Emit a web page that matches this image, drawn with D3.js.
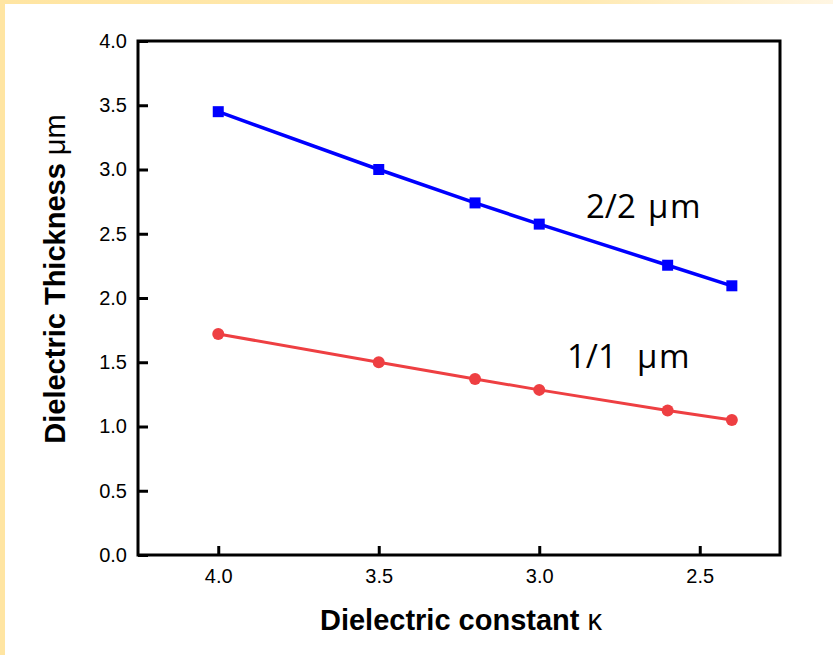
<!DOCTYPE html>
<html>
<head>
<meta charset="utf-8">
<script src="https://cdn.jsdelivr.net/npm/d3@7"></script>
<style>
    body { margin: 0; background: #ffffff; }
</style>
</head>
<body>
<div id="chart"></div>
<script>

// data
let kappa = [4.0, 3.5, 3.2, 3.0, 2.6, 2.4];
let thick22 = [3.45, 3.0, 2.74, 2.575, 2.255, 2.095];
let thick11 = [1.72, 1.50, 1.37, 1.285, 1.125, 1.05];
let xTicks = [4.0, 3.5, 3.0, 2.5];
let yTicks = [0.0, 0.5, 1.0, 1.5, 2.0, 2.5, 3.0, 3.5, 4.0];

let width = 833,
    height = 655;

let plotLeft = 138, plotRight = 780, plotTop = 41, plotBottom = 555;

let svg = d3.select("#chart").append("svg")
    .attr("width", width)
    .attr("height", height);

// cream slide border
let grad = svg.append("defs").append("linearGradient")
    .attr("id", "band")
    .attr("x1", "0%").attr("x2", "100%");
grad.append("stop").attr("offset", "0%").attr("stop-color", "#ffe5a2");
grad.append("stop").attr("offset", "70%").attr("stop-color", "#ffeab3");
grad.append("stop").attr("offset", "100%").attr("stop-color", "#fff6e3");

svg.append("rect").attr("x", 0).attr("y", 0)
    .attr("width", width).attr("height", 4)
    .attr("fill", "url(#band)");
svg.append("rect").attr("x", 0).attr("y", 0)
    .attr("width", 5).attr("height", height)
    .attr("fill", "#ffe5a2");

let x = d3.scaleLinear()
    .domain([4.25, 2.25])
    .range([plotLeft, plotRight]);

let y = d3.scaleLinear()
    .domain([0, 4])
    .range([plotBottom, plotTop]);

let tickFormat = d3.format(".1f");

// axes with inward ticks
let xAxis = svg.append("g")
    .attr("transform", "translate(0," + plotBottom + ")")
    .call(d3.axisBottom(x)
        .tickValues(xTicks)
        .tickSizeInner(-9)
        .tickSizeOuter(0)
        .tickPadding(14)
        .tickFormat(tickFormat));

let yAxis = svg.append("g")
    .attr("transform", "translate(" + plotLeft + ",0)")
    .call(d3.axisLeft(y)
        .tickValues(yTicks)
        .tickSizeInner(-10)
        .tickSizeOuter(0)
        .tickPadding(11)
        .tickFormat(tickFormat));

[xAxis, yAxis].forEach(function(g) {
    g.select(".domain").remove();
    g.selectAll(".tick line").attr("stroke", "#000").attr("stroke-width", 3);
    g.selectAll(".tick text")
        .attr("fill", "#000")
        .style("font-family", "Arial, 'Liberation Sans', sans-serif")
        .style("font-size", "20px");
});

// plot frame
svg.append("rect")
    .attr("x", plotLeft).attr("y", plotTop)
    .attr("width", plotRight - plotLeft).attr("height", plotBottom - plotTop)
    .attr("fill", "none")
    .attr("stroke", "#000")
    .attr("stroke-width", 3);

let line = d3.line()
    .x(d => x(d[0]))
    .y(d => y(d[1]));

let blue = kappa.map((k, i) => [k, thick22[i]]);
let red = kappa.map((k, i) => [k, thick11[i]]);

svg.append("path")
    .datum(blue)
    .attr("d", line)
    .attr("fill", "none")
    .attr("stroke", "#0000ff")
    .attr("stroke-width", 3.5);

svg.selectAll(".sq")
    .data(blue)
    .enter()
    .append("rect")
    .attr("class", "sq")
    .attr("x", d => x(d[0]) - 5.5)
    .attr("y", d => y(d[1]) - 5.5)
    .attr("width", 11)
    .attr("height", 11)
    .attr("fill", "#0000ff");

svg.append("path")
    .datum(red)
    .attr("d", line)
    .attr("fill", "none")
    .attr("stroke", "#ee3f42")
    .attr("stroke-width", 3);

svg.selectAll(".dot")
    .data(red)
    .enter()
    .append("circle")
    .attr("class", "dot")
    .attr("cx", d => x(d[0]))
    .attr("cy", d => y(d[1]))
    .attr("r", 6)
    .attr("fill", "#ee3f42");

// series labels, the unit set a bit apart like the original
function seriesLabel(px, py, ux, txt) {
    let t = svg.append("text")
        .attr("x", px).attr("y", py)
        .style("font-family", "'Open Sans', sans-serif")
        .style("font-size", "33px")
        .style("fill", "#000");
    t.append("tspan").text(txt);
    t.append("tspan").attr("x", ux)
        .style("letter-spacing", "1.5px")
        .text("\u03bcm");
}
seriesLabel(586, 218, 648, "2/2");
seriesLabel(567, 368, 637, "1/1");

// axis titles
let xTitle = svg.append("text")
    .attr("x", (plotLeft + plotRight) / 2 + 2)
    .attr("y", 630)
    .attr("text-anchor", "middle")
    .style("font-family", "Arial, 'Liberation Sans', sans-serif")
    .style("font-size", "29px")
    .style("font-weight", "bold");
xTitle.append("tspan").text("Dielectric constant ");
xTitle.append("tspan").style("font-weight", "normal").text("\u03ba");

let yTitle = svg.append("text")
    .attr("transform", "translate(65,279) rotate(-90)")
    .attr("text-anchor", "middle")
    .style("font-family", "Arial, 'Liberation Sans', sans-serif")
    .style("font-size", "29px")
    .style("font-weight", "bold");
yTitle.append("tspan").text("Dielectric Thickness ");
yTitle.append("tspan").style("font-weight", "normal").text("\u03bcm");

</script>
</body>
</html>
